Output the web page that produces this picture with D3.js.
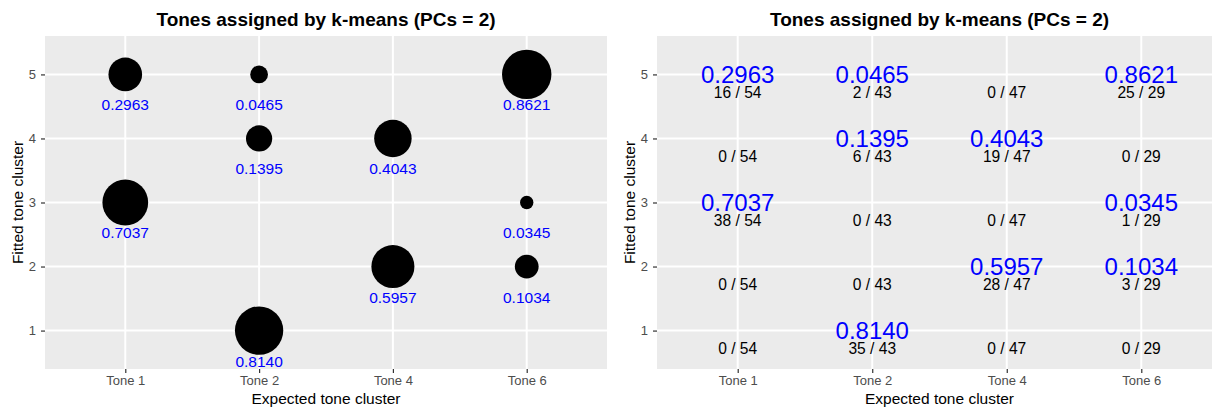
<!DOCTYPE html>
<html>
<head>
<meta charset="utf-8">
<script src="https://cdn.jsdelivr.net/npm/d3@7"></script>
<style>
  html, body { margin: 0; padding: 0; background: #fff; }
  svg { display: block; font-family: "Liberation Sans", Arial, sans-serif; }
</style>
</head>
<body>
<svg id="chart" width="1212" height="408"></svg>
<script>
// Expected tone categories and the number of tokens in each
const tones = ["Tone 1", "Tone 2", "Tone 4", "Tone 6"];
const toneTotals = [54, 43, 47, 29];

// Fitted k-means clusters (y axis levels)
const clusters = [1, 2, 3, 4, 5];

// Counts assigned to each fitted cluster, per expected tone (order follows `clusters`)
const countsTone1 = [0, 0, 38, 0, 16];
const countsTone2 = [35, 0, 0, 6, 2];
const countsTone4 = [0, 28, 0, 19, 0];
const countsTone6 = [0, 3, 1, 0, 25];

const titleText = "Tones assigned by k-means (PCs = 2)";
const xTitle = "Expected tone cluster";
const yTitle = "Fitted tone cluster";

const countsByTone = [countsTone1, countsTone2, countsTone4, countsTone6];

// Long table: one row per tone x cluster
const cells = [];
tones.forEach((t, i) => {
  clusters.forEach((c, j) => {
    const n = countsByTone[i][j];
    cells.push({ tone: t, cluster: c, n: n, total: toneTotals[i], prop: n / toneTotals[i] });
  });
});
const nonzero = cells.filter(d => d.n > 0);
const fmt = d3.format(".4f");

const svg = d3.select("#chart");
const FONT = '"Liberation Sans", Arial, sans-serif';

function panel(x0, x1, y0, y1) {
  const g = svg.append("g");
  const x = d3.scalePoint().domain(tones).range([x0, x1]).padding(0.6);
  const y = d3.scalePoint().domain(clusters).range([y1, y0]).padding(0.6);

  g.append("rect").attr("x", x0).attr("y", y0)
    .attr("width", x1 - x0).attr("height", y1 - y0).attr("fill", "#EBEBEB");

  // major grid lines
  g.selectAll(".gx").data(tones).join("line")
    .attr("x1", d => x(d)).attr("x2", d => x(d)).attr("y1", y0).attr("y2", y1)
    .attr("stroke", "#fff").attr("stroke-width", 2);
  g.selectAll(".gy").data(clusters).join("line")
    .attr("y1", d => y(d)).attr("y2", d => y(d)).attr("x1", x0).attr("x2", x1)
    .attr("stroke", "#fff").attr("stroke-width", 2);

  const ax = g.append("g").attr("transform", `translate(0,${y1})`)
    .call(d3.axisBottom(x).tickSize(4).tickPadding(3));
  const ay = g.append("g").attr("transform", `translate(${x0},0)`)
    .call(d3.axisLeft(y).tickSize(4).tickPadding(5));
  [ax, ay].forEach(a => {
    a.select(".domain").remove();
    a.selectAll(".tick line").attr("stroke", "#333").attr("stroke-width", 1.2);
    a.selectAll(".tick text").attr("fill", "#4d4d4d")
      .style("font-size", "13px").style("font-family", FONT);
  });

  const cx = (x0 + x1) / 2;
  g.append("text").attr("x", cx).attr("y", 25.5).attr("text-anchor", "middle")
    .style("font-weight", "bold").style("font-size", "19px").attr("fill", "#000")
    .text(titleText);
  g.append("text").attr("x", cx).attr("y", 403.5).attr("text-anchor", "middle")
    .style("font-size", "15.5px").attr("fill", "#000").text(xTitle);
  g.append("text")
    .attr("transform", `translate(${x0 - 22},${(y0 + y1) / 2}) rotate(-90)`)
    .attr("text-anchor", "middle").style("font-size", "15.5px").attr("fill", "#000")
    .text(yTitle);

  return { g, x, y, step: y.step() };
}

// Left: bubble size by proportion
const L = panel(45, 607, 36, 369);
const norm = d3.scaleLinear().domain(d3.extent(nonzero, d => d.prop)).range([0, 1]);
const rad = d3.scaleLinear().domain([0, 1]).range([6.7, 24.7]);
L.g.selectAll(".dot").data(nonzero).join("circle")
  .attr("cx", d => L.x(d.tone)).attr("cy", d => L.y(d.cluster))
  .attr("r", d => rad(Math.sqrt(norm(d.prop))))
  .attr("fill", "#000");
L.g.selectAll(".plab").data(nonzero).join("text")
  .attr("x", d => L.x(d.tone)).attr("y", d => L.y(d.cluster) + 0.475 * L.step)
  .attr("dy", "0.36em").attr("text-anchor", "middle")
  .style("font-size", "15.5px").attr("fill", "#0000FF")
  .text(d => fmt(d.prop));

// Right: proportions and raw counts as text
const R = panel(657, 1222, 36, 369);
R.g.selectAll(".cnt").data(cells).join("text")
  .attr("x", d => R.x(d.tone)).attr("y", d => R.y(d.cluster) + 0.28 * R.step)
  .attr("dy", "0.36em").attr("text-anchor", "middle")
  .style("font-size", "15.6px").attr("fill", "#000")
  .text(d => `${d.n} / ${d.total}`);
R.g.selectAll(".rlab").data(nonzero).join("text")
  .attr("x", d => R.x(d.tone)).attr("y", d => R.y(d.cluster))
  .attr("dy", "0.36em").attr("text-anchor", "middle")
  .style("font-size", "24px").attr("fill", "#0000FF")
  .text(d => fmt(d.prop));
</script>
</body>
</html>
